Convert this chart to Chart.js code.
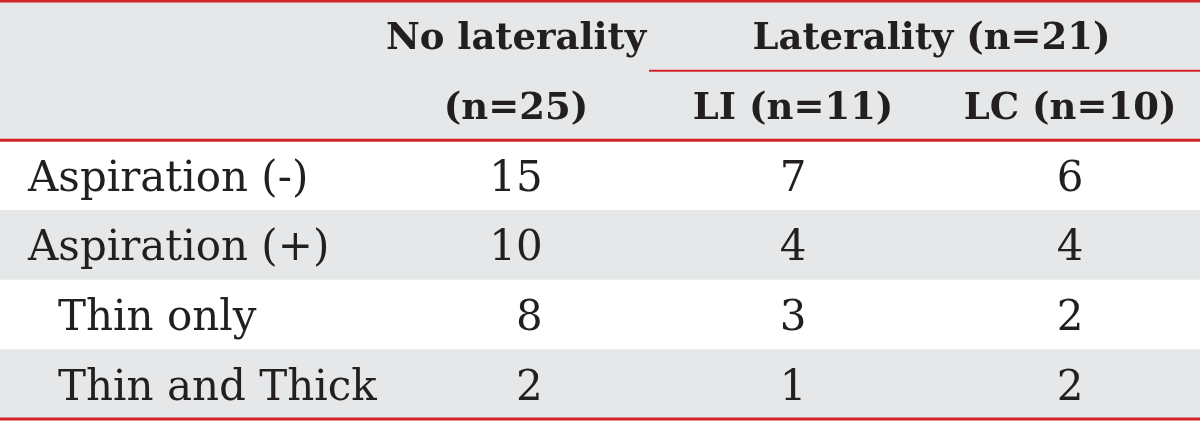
<!DOCTYPE html>
<html>
<head>
<meta charset="utf-8">
<script src="https://cdn.jsdelivr.net/npm/chart.js@4/dist/chart.umd.min.js"></script>
<style>
  html, body { margin: 0; padding: 0; background: #fff; }
  #wrap { width: 1200px; height: 422px; position: relative; }
</style>
</head>
<body>
<div id="wrap"><canvas id="tbl"></canvas></div>
<script>
/* ---- table data ---- */
var ROW_LABELS    = ['Aspiration (-)', 'Aspiration (+)', 'Thin only', 'Thin and Thick'];
var ROW_INDENT    = [0, 0, 1, 1];
var NO_LATERALITY = [15, 10, 8, 2];
var LATERAL_LI    = [7, 4, 3, 1];
var LATERAL_LC    = [6, 4, 2, 2];
var HEAD_TOP      = ['No laterality', 'Laterality (n=21)'];
var HEAD_SUB      = ['(n=25)', 'LI (n=11)', 'LC (n=10)'];

var COLUMNS = [NO_LATERALITY, LATERAL_LI, LATERAL_LC];
var HEAD_ROWS = 2;                     // header occupies two table rows
var GRAY = '#e6e7e8', RED = '#d2232a', INK = '#231f20';
var BODY_FONT = '42px "DejaVu Serif"';
var HEAD_FONT = 'bold 37px "DejaVu Serif"';

function rowCenter(i) { return HEAD_ROWS + i + 0.5; }

var tablePlugin = {
  id: 'tableCells',
  beforeDatasetsDraw: function(chart) {
    var ctx = chart.ctx, xs = chart.scales.x, ys = chart.scales.y;
    var left = xs.left, right = xs.right;
    ctx.save();
    // header band
    ctx.fillStyle = GRAY;
    ctx.fillRect(left, ys.getPixelForValue(0), right - left,
      ys.getPixelForValue(HEAD_ROWS) - ys.getPixelForValue(0));
    // striped body rows
    ROW_LABELS.forEach(function(lbl, i) {
      if (i % 2 === 1) {
        var y0 = ys.getPixelForValue(HEAD_ROWS + i), y1 = ys.getPixelForValue(HEAD_ROWS + i + 1);
        ctx.fillRect(left, y0, right - left, y1 - y0);
      }
    });
    // red rules
    ctx.strokeStyle = RED;
    function rule(v, x0, w) {
      var y = ys.getPixelForValue(v);
      ctx.lineWidth = w;
      ctx.beginPath(); ctx.moveTo(x0, y); ctx.lineTo(right, y); ctx.stroke();
    }
    rule(0, left, 3);
    rule(1, xs.getPixelForValue(1.48), 2);
    rule(HEAD_ROWS, left, 3);
    rule(HEAD_ROWS + ROW_LABELS.length, left, 3);
    ctx.restore();
  },
  afterDatasetsDraw: function(chart) {
    var ctx = chart.ctx, xs = chart.scales.x, ys = chart.scales.y;
    ctx.save();
    ctx.fillStyle = INK;
    ctx.textBaseline = 'alphabetic';

    function capText(txt, x, yv, font, align) {
      ctx.font = font;
      ctx.textAlign = align;
      var cap = ctx.measureText('H').actualBoundingBoxAscent;
      ctx.fillText(txt, x, ys.getPixelForValue(yv) + cap / 2);
    }

    // header
    capText(HEAD_TOP[0], xs.getPixelForValue(1), 0.5, HEAD_FONT, 'center');
    capText(HEAD_TOP[1], xs.getPixelForValue(2.5), 0.5, HEAD_FONT, 'center');
    HEAD_SUB.forEach(function(t, k) {
      capText(t, xs.getPixelForValue(k + 1), 1.5, HEAD_FONT, 'center');
    });

    // row labels
    ROW_LABELS.forEach(function(t, i) {
      capText(t, xs.left + 28 + ROW_INDENT[i] * 30, rowCenter(i), BODY_FONT, 'left');
    });

    // values, placed from the dataset points
    ctx.font = BODY_FONT;
    chart.data.datasets.forEach(function(ds, k) {
      var meta = chart.getDatasetMeta(k);
      var maxW = 0;
      ds.values.forEach(function(v) { maxW = Math.max(maxW, ctx.measureText(String(v)).width); });
      meta.data.forEach(function(pt, i) {
        ctx.textAlign = 'right';
        var cap = ctx.measureText('H').actualBoundingBoxAscent;
        ctx.fillText(String(ds.values[i]), pt.x + maxW / 2, pt.y + cap / 2);
      });
    });
    ctx.restore();
  }
};

new Chart(document.getElementById('tbl'), {
  type: 'scatter',
  data: {
    datasets: COLUMNS.map(function(col, k) {
      return {
        label: HEAD_SUB[k],
        values: col,
        data: col.map(function(v, i) { return { x: k + 1, y: rowCenter(i) }; }),
        pointRadius: 0,
        pointHoverRadius: 0
      };
    })
  },
  options: {
    responsive: true,
    maintainAspectRatio: false,
    animation: false,
    events: [],
    layout: { padding: { top: 1, bottom: 3, left: 0, right: 0 } },
    plugins: { legend: { display: false }, tooltip: { enabled: false } },
    scales: {
      x: { type: 'linear', display: false, min: -0.863, max: 3.469 },
      y: { type: 'linear', display: false, reverse: true, min: 0, max: HEAD_ROWS + ROW_LABELS.length }
    }
  },
  plugins: [tablePlugin]
});
</script>
</body>
</html>
